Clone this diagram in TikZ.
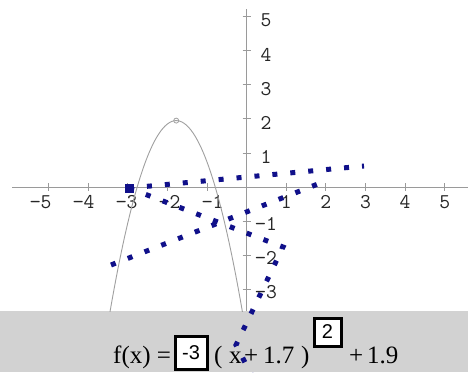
\documentclass[tikz,border=0pt]{standalone}
\usepackage{fontspec}
\setmainfont{Liberation Serif}
\newfontfamily\boxfont{Liberation Sans}
\definecolor{axisgray}{HTML}{9A9A9A}
\definecolor{curvegray}{HTML}{A0A0A0}
\definecolor{bandgray}{HTML}{D2D2D2}
\definecolor{trailblue}{HTML}{10108A}
\begin{document}
\begin{tikzpicture}[x=1pt,y=-1pt,
  axis/.style={draw=axisgray, line width=1.3pt},
  tickmark/.style={draw=axisgray, line width=1pt},
  ticklab/.style={font=\ttfamily\fontsize{21}{21}\selectfont, inner sep=0pt, text=black!85},
  trail/.style={draw=trailblue, line width=5pt, dash pattern=on 5pt off 13pt},
  valbox/.style={draw=black, line width=3pt, fill=white, inner sep=0pt, font=\boxfont\fontsize{20}{20}\selectfont},
  formula/.style={font=\fontsize{25}{25}\selectfont, inner sep=0pt, anchor=base west}]
\useasboundingbox (0,0) rectangle (468,372);
\fill[white] (0,0) rectangle (468,372);
\fill[bandgray] (0,311) rectangle (468,372);
% axes
\coordinate (xl) at (12,187.3);
\coordinate (xr) at (468,187.3);
\coordinate (yt) at (246.7,9);
\coordinate (yb) at (246.7,311);
\draw[axis] (xl) -- (xr);
\draw[axis] (yt) -- (yb);
\foreach \i in {-5,-4,-3,-2,-1,1,2,3,4,5}{
  \coordinate (xt\i) at ({246.7+39.6*\i},187.3);
  \draw[tickmark] ([yshift=4pt]xt\i) -- ([yshift=-4pt]xt\i);
}
\foreach \j in {-3,-2,-1,1,2,3,4,5}{
  \coordinate (yt\j) at (246.7,{187.3-34.2*\j});
  \draw[tickmark] ([xshift=-4pt]yt\j) -- ([xshift=4pt]yt\j);
}
% x labels
\foreach \i in {-5,-4,-3,-2,-1}{
  \node[ticklab] (xlab\i) at ({246.7+43*\i+9},202) {−\the\numexpr-\i\relax};
}
\foreach \i in {1,2,3,4,5}{
  \node[ticklab] (xlab\i) at ({246.7+39.6*\i},202) {\i};
}
% y labels
\foreach \j in {1,2,3,4,5}{
  \node[ticklab] (ylab\j) at (266,{187.3-34.2*\j+4}) {\j};
}
\foreach \j in {-1,-2,-3}{
  \node[ticklab] (ylab\j) at (266,{187.3-34.2*\j+2}) {−\the\numexpr-\j\relax};
}
% parabola
\begin{scope}[shift={(246.7,187.3)}, x=39.6pt, y=34.2pt]
  \begin{scope}
    \clip (-6,5.5) rectangle (6,-3.63);
    \draw[curvegray, line width=0.9pt, domain=-3.5:-0.06, samples=80, smooth]
      plot (\x,{-2*(\x+1.78)*(\x+1.78)+1.95});
  \end{scope}
  \coordinate (vtx) at (-1.78,1.95);
\end{scope}
\draw[curvegray, line width=0.8pt] (vtx) circle[radius=2.5pt];
% dotted trails
\coordinate (pa) at (129,188);
\coordinate (pb) at (364,166);
\coordinate (pc) at (283,247);
\coordinate (pd) at (236,345);
\coordinate (pe) at (252,376);
\coordinate (pf) at (111,265);
\coordinate (pg) at (323,182);
\draw[trail] (pa) -- (pb);
\draw[trail] (pa) -- (pc) -- (pd) -- (pe);
\draw[trail] (pf) -- (pg);
\fill[trailblue] ([xshift=-4.5pt,yshift=-4.5pt]pa) rectangle ([xshift=4.5pt,yshift=4.5pt]pa);
% formula
\node[formula] (fx) at (113,363) {f(x) =};
\node[valbox, minimum width=32pt, minimum height=33pt] (b1) at (191,352.5) {-3};
\node[formula] (lp) at (214,363) {(};
\node[formula] (xv) at (229,363) {x};
\node[formula] (pl1) at (244,363) {+};
\node[formula] (c17) at (263,363) {1.7};
\node[formula] (rp) at (301,363) {)};
\node[valbox, minimum width=27pt, minimum height=28pt] (b2) at (327.5,332) {2};
\node[formula] (pl2) at (349,363) {+};
\node[formula] (c19) at (367,363) {1.9};
\end{tikzpicture}
\end{document}
